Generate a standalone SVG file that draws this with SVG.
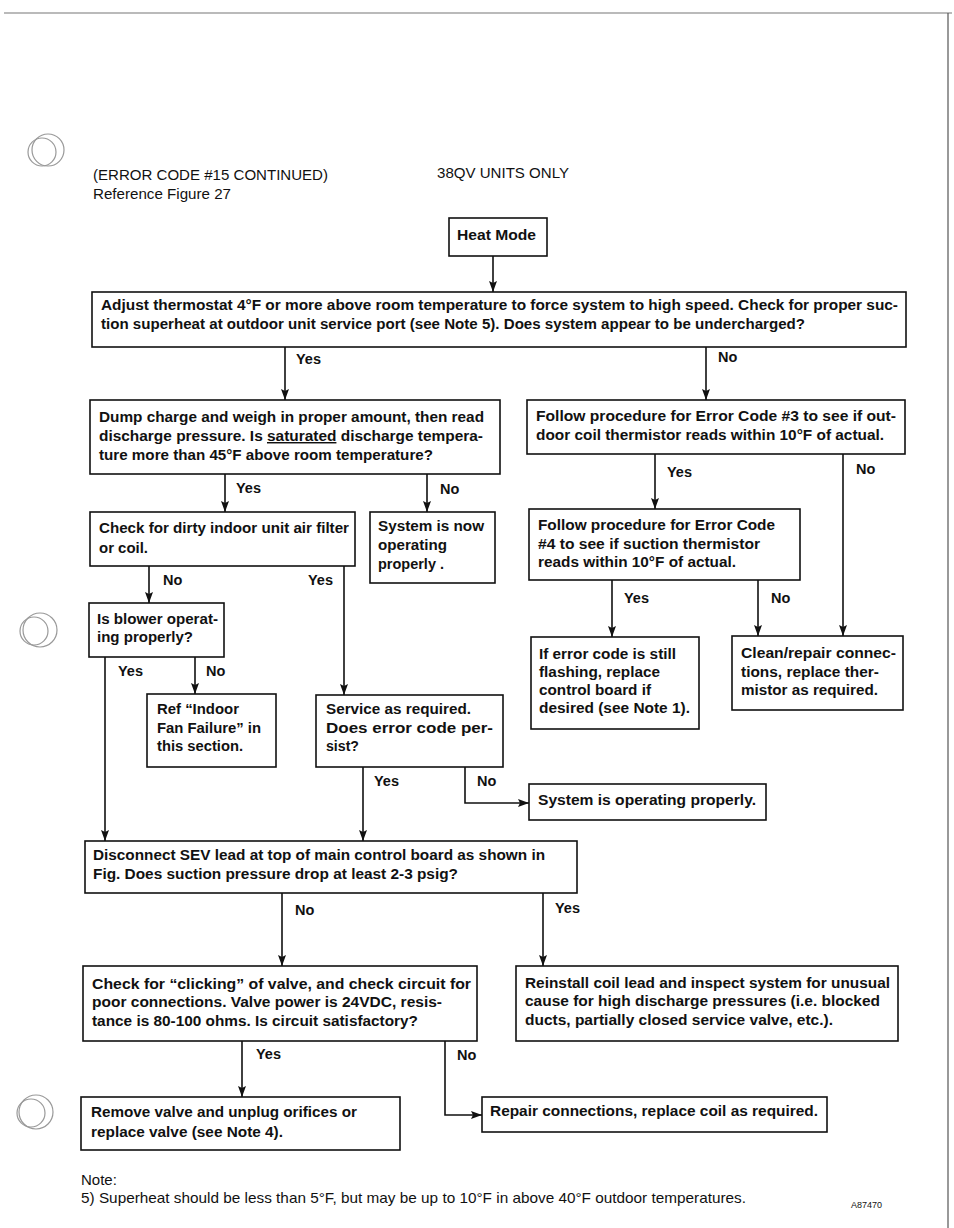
<svg xmlns="http://www.w3.org/2000/svg" width="954" height="1228" viewBox="0 0 954 1228">
<defs>
<marker id="ah" markerUnits="userSpaceOnUse" markerWidth="8" markerHeight="11" refX="4" refY="11" orient="0" viewBox="0 0 8 11">
<path d="M0,0 L4,2 L8,0 L4,11 z" fill="#111"/>
</marker>
<marker id="ahr" markerUnits="userSpaceOnUse" markerWidth="11" markerHeight="8" refX="11" refY="4" orient="0" viewBox="0 0 11 8">
<path d="M0,0 L2,4 L0,8 L11,4 z" fill="#111"/>
</marker>
<style>
.box{fill:#fff;stroke:#111;stroke-width:1.6}
.t{font-family:"Liberation Sans",Arial,sans-serif;font-weight:bold;font-size:14.5px;fill:#111}
.r{font-family:"Liberation Sans",Arial,sans-serif;font-size:15px;fill:#111}
.lbl{font-family:"Liberation Sans",Arial,sans-serif;font-weight:bold;font-size:14.5px;fill:#111}
.c{fill:none;stroke:#111;stroke-width:1.6}
.hole{fill:none;stroke:#999;stroke-width:1.2}
</style>
</defs>
<rect width="954" height="1228" fill="#fff"/>
<g id="page">
<line x1="4" y1="13" x2="952" y2="13" stroke="#777" stroke-width="1.2"/>
<line x1="948" y1="13" x2="948" y2="1228" stroke="#555" stroke-width="1.2"/>
<circle class="hole" cx="48" cy="150" r="16"/><circle class="hole" cx="42" cy="152" r="14"/>
<circle class="hole" cx="40" cy="630" r="17"/><circle class="hole" cx="34" cy="631" r="14"/>
<circle class="hole" cx="36" cy="1112" r="17"/><circle class="hole" cx="31" cy="1113" r="14"/>
</g>
<g id="header">
<text class="r" x="93" y="180" textLength="235" lengthAdjust="spacingAndGlyphs">(ERROR CODE #15 CONTINUED)</text>
<text class="r" x="93" y="199" textLength="138" lengthAdjust="spacingAndGlyphs">Reference Figure 27</text>
<text class="r" x="437" y="178" textLength="132" lengthAdjust="spacingAndGlyphs">38QV UNITS ONLY</text>
</g>
<g id="connectors">
<path class="c" d="M493,256 V292" marker-end="url(#ah)"/>
<path class="c" d="M285,347 V400" marker-end="url(#ah)"/>
<path class="c" d="M706,347 V400" marker-end="url(#ah)"/>
<path class="c" d="M225,474 V512" marker-end="url(#ah)"/>
<path class="c" d="M427,474 V512" marker-end="url(#ah)"/>
<path class="c" d="M149,566 V603" marker-end="url(#ah)"/>
<path class="c" d="M344,566 V695" marker-end="url(#ah)"/>
<path class="c" d="M105,657 V841" marker-end="url(#ah)"/>
<path class="c" d="M195,657 V694" marker-end="url(#ah)"/>
<path class="c" d="M363,767 V841" marker-end="url(#ah)"/>
<path class="c" d="M465,767 V803 H529" marker-end="url(#ahr)"/>
<path class="c" d="M655,454 V509" marker-end="url(#ah)"/>
<path class="c" d="M843,454 V636" marker-end="url(#ah)"/>
<path class="c" d="M612,580 V637" marker-end="url(#ah)"/>
<path class="c" d="M758,580 V636" marker-end="url(#ah)"/>
<path class="c" d="M282,893 V966" marker-end="url(#ah)"/>
<path class="c" d="M543,893 V966" marker-end="url(#ah)"/>
<path class="c" d="M242,1041 V1097" marker-end="url(#ah)"/>
<path class="c" d="M445,1041 V1115 H482" marker-end="url(#ahr)"/>
<text class="lbl" x="296" y="364">Yes</text>
<text class="lbl" x="718" y="362">No</text>
<text class="lbl" x="236" y="493">Yes</text>
<text class="lbl" x="440" y="494">No</text>
<text class="lbl" x="163" y="585">No</text>
<text class="lbl" x="308" y="585">Yes</text>
<text class="lbl" x="118" y="676">Yes</text>
<text class="lbl" x="206" y="676">No</text>
<text class="lbl" x="374" y="786">Yes</text>
<text class="lbl" x="477" y="786">No</text>
<text class="lbl" x="667" y="477">Yes</text>
<text class="lbl" x="856" y="474">No</text>
<text class="lbl" x="624" y="603">Yes</text>
<text class="lbl" x="771" y="603">No</text>
<text class="lbl" x="295" y="915">No</text>
<text class="lbl" x="555" y="913">Yes</text>
<text class="lbl" x="256" y="1059">Yes</text>
<text class="lbl" x="457" y="1060">No</text>
</g>
<g id="heat-mode">
<rect class="box" x="449" y="218" width="98" height="38"/>
<text class="t" x="457" y="240" textLength="79" lengthAdjust="spacingAndGlyphs">Heat Mode</text>
</g>
<g id="adjust-thermostat">
<rect class="box" x="92" y="292" width="814" height="55"/>
<text class="t" x="101" y="310" textLength="797" lengthAdjust="spacingAndGlyphs">Adjust thermostat 4°F or more above room temperature to force system to high speed.  Check for proper suc-</text>
<text class="t" x="101" y="329" textLength="704" lengthAdjust="spacingAndGlyphs">tion superheat at outdoor unit service port (see Note 5).  Does system appear to be undercharged?</text>
</g>
<g id="dump-charge">
<rect class="box" x="90" y="400" width="410" height="74"/>
<text class="t" x="99" y="422" textLength="385" lengthAdjust="spacingAndGlyphs">Dump charge and weigh in proper amount, then read</text>
<text class="t" x="99" y="441" textLength="384" lengthAdjust="spacingAndGlyphs">discharge pressure.  Is <tspan text-decoration="underline">saturated</tspan> discharge tempera-</text>
<text class="t" x="99" y="460" textLength="334" lengthAdjust="spacingAndGlyphs">ture more than 45°F above room temperature?</text>
</g>
<g id="error-code-3">
<rect class="box" x="527" y="400" width="378" height="54"/>
<text class="t" x="536" y="421" textLength="360" lengthAdjust="spacingAndGlyphs">Follow procedure for Error Code #3 to see if out-</text>
<text class="t" x="536" y="440" textLength="348" lengthAdjust="spacingAndGlyphs">door coil thermistor reads within 10°F of actual.</text>
</g>
<g id="check-filter">
<rect class="box" x="90" y="512" width="265" height="54"/>
<text class="t" x="99" y="533" textLength="250" lengthAdjust="spacingAndGlyphs">Check for dirty indoor unit air filter</text>
<text class="t" x="99" y="553" textLength="49" lengthAdjust="spacingAndGlyphs">or coil.</text>
</g>
<g id="system-now-ok">
<rect class="box" x="370" y="512" width="125" height="71"/>
<text class="t" x="378" y="531" textLength="106" lengthAdjust="spacingAndGlyphs">System is now</text>
<text class="t" x="378" y="550" textLength="69" lengthAdjust="spacingAndGlyphs">operating</text>
<text class="t" x="378" y="569" textLength="66" lengthAdjust="spacingAndGlyphs">properly .</text>
</g>
<g id="error-code-4">
<rect class="box" x="529" y="509" width="271" height="71"/>
<text class="t" x="538" y="530" textLength="237" lengthAdjust="spacingAndGlyphs">Follow procedure for Error Code</text>
<text class="t" x="538" y="549" textLength="222" lengthAdjust="spacingAndGlyphs">#4 to see if suction thermistor</text>
<text class="t" x="538" y="567" textLength="198" lengthAdjust="spacingAndGlyphs">reads within 10°F of actual.</text>
</g>
<g id="blower">
<rect class="box" x="89" y="603" width="135" height="54"/>
<text class="t" x="97" y="624" textLength="121" lengthAdjust="spacingAndGlyphs">Is blower operat-</text>
<text class="t" x="97" y="642" textLength="96" lengthAdjust="spacingAndGlyphs">ing properly?</text>
</g>
<g id="indoor-fan">
<rect class="box" x="147" y="694" width="129" height="73"/>
<text class="t" x="157" y="714" textLength="82" lengthAdjust="spacingAndGlyphs">Ref “Indoor</text>
<text class="t" x="157" y="733" textLength="104" lengthAdjust="spacingAndGlyphs">Fan Failure” in</text>
<text class="t" x="157" y="751" textLength="86" lengthAdjust="spacingAndGlyphs">this section.</text>
</g>
<g id="service">
<rect class="box" x="316" y="695" width="187" height="72"/>
<text class="t" x="326" y="714" textLength="145" lengthAdjust="spacingAndGlyphs">Service as required.</text>
<text class="t" x="326" y="733" textLength="167" lengthAdjust="spacingAndGlyphs">Does error code per-</text>
<text class="t" x="326" y="751" textLength="33" lengthAdjust="spacingAndGlyphs">sist?</text>
</g>
<g id="replace-board">
<rect class="box" x="531" y="637" width="168" height="92"/>
<text class="t" x="539" y="659" textLength="137" lengthAdjust="spacingAndGlyphs">If error code is still</text>
<text class="t" x="539" y="677" textLength="121" lengthAdjust="spacingAndGlyphs">flashing, replace</text>
<text class="t" x="539" y="695" textLength="112" lengthAdjust="spacingAndGlyphs">control board if</text>
<text class="t" x="539" y="713" textLength="151" lengthAdjust="spacingAndGlyphs">desired (see Note 1).</text>
</g>
<g id="clean-repair">
<rect class="box" x="732" y="636" width="171" height="74"/>
<text class="t" x="741" y="658" textLength="155" lengthAdjust="spacingAndGlyphs">Clean/repair connec-</text>
<text class="t" x="741" y="677" textLength="138" lengthAdjust="spacingAndGlyphs">tions, replace ther-</text>
<text class="t" x="741" y="695" textLength="137" lengthAdjust="spacingAndGlyphs">mistor as required.</text>
</g>
<g id="system-ok">
<rect class="box" x="529" y="784" width="237" height="36"/>
<text class="t" x="538" y="805" textLength="218" lengthAdjust="spacingAndGlyphs">System is operating properly.</text>
</g>
<g id="disconnect-sev">
<rect class="box" x="85" y="841" width="492" height="52"/>
<text class="t" x="93" y="860" textLength="452" lengthAdjust="spacingAndGlyphs">Disconnect SEV lead at top of main control board as shown in</text>
<text class="t" x="93" y="879" textLength="365" lengthAdjust="spacingAndGlyphs">Fig.  Does suction pressure drop at least 2-3 psig?</text>
</g>
<g id="check-clicking">
<rect class="box" x="83" y="966" width="394" height="75"/>
<text class="t" x="92" y="989" textLength="379" lengthAdjust="spacingAndGlyphs">Check for “clicking” of valve, and check circuit for</text>
<text class="t" x="92" y="1007" textLength="350" lengthAdjust="spacingAndGlyphs">poor connections.  Valve power is 24VDC, resis-</text>
<text class="t" x="92" y="1026" textLength="326" lengthAdjust="spacingAndGlyphs">tance is 80-100 ohms.  Is circuit satisfactory?</text>
</g>
<g id="reinstall">
<rect class="box" x="516" y="966" width="382" height="75"/>
<text class="t" x="525" y="988" textLength="365" lengthAdjust="spacingAndGlyphs">Reinstall coil lead and inspect system for unusual</text>
<text class="t" x="525" y="1006" textLength="355" lengthAdjust="spacingAndGlyphs">cause for high discharge pressures (i.e. blocked</text>
<text class="t" x="525" y="1025" textLength="308" lengthAdjust="spacingAndGlyphs">ducts, partially closed service valve, etc.).</text>
</g>
<g id="remove-valve">
<rect class="box" x="81" y="1097" width="319" height="53"/>
<text class="t" x="91" y="1117" textLength="266" lengthAdjust="spacingAndGlyphs">Remove valve and unplug orifices or</text>
<text class="t" x="91" y="1137" textLength="192" lengthAdjust="spacingAndGlyphs">replace valve (see Note 4).</text>
</g>
<g id="repair-coil">
<rect class="box" x="482" y="1097" width="345" height="35"/>
<text class="t" x="490" y="1116" textLength="328" lengthAdjust="spacingAndGlyphs">Repair connections, replace coil as required.</text>
</g>
<g id="notes">
<text class="r" x="81" y="1185">Note:</text>
<text class="r" x="81" y="1203" textLength="665" lengthAdjust="spacingAndGlyphs">5) Superheat should be less than 5°F, but may be up to 10°F in above 40°F outdoor temperatures.</text>
<text x="851" y="1208" font-family="Liberation Sans,Arial,sans-serif" font-size="9" fill="#111">A87470</text>
</g>
</svg>
